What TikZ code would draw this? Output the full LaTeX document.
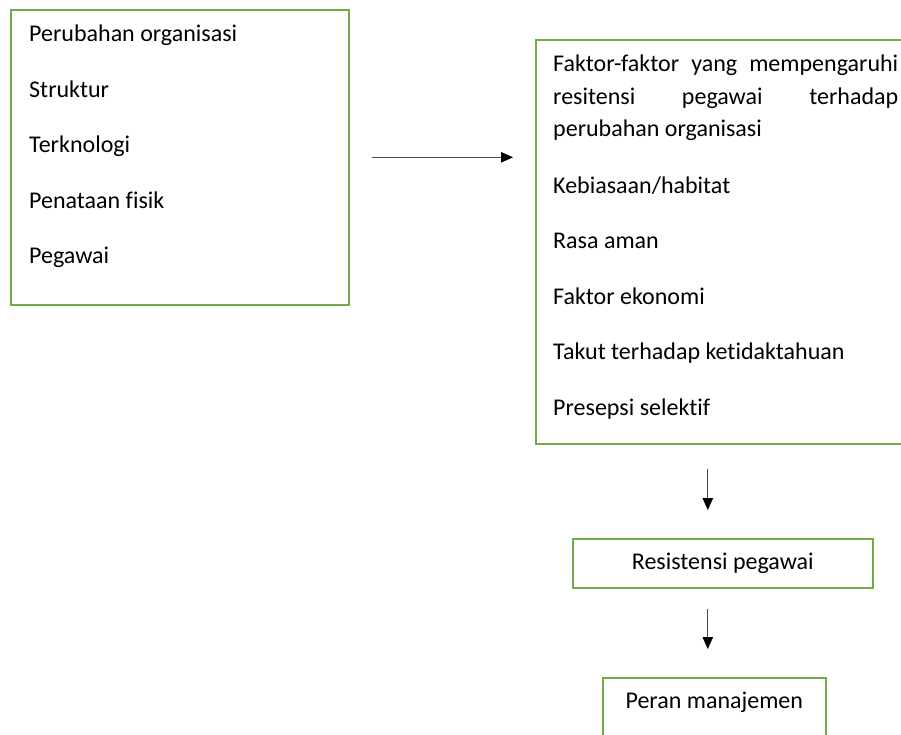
\documentclass[tikz,border=0pt]{standalone}
\usepackage{fontspec}
\setmainfont{Carlito}[Ligatures=NoCommon]
\usepackage{tikz}
\usetikzlibrary{arrows.meta, positioning}
\definecolor{boxgreen}{RGB}{112,173,71}
\setlength{\parindent}{0pt}
\tolerance=10000
\hyphenpenalty=10000

\begin{document}
\begin{tikzpicture}[x=1pt, y=-1pt,
    >={Triangle[length=12pt, width=10.5pt, color=black]}]
  \tikzset{
    box/.style={draw=boxgreen, line width=1.6pt, inner sep=0pt,
      anchor=north west},
    listtext/.style={inner sep=0pt, anchor=base west, align=flush left,
      text width=300pt, font=\fontsize{24}{55.5}\selectfont},
    arr/.style={->, draw=black!70, line width=0.8pt},
  }
  \useasboundingbox (0,0) rectangle (901,734);
  \clip (0,0) rectangle (901,734);

  % left block
  \node[box, minimum width=338pt, minimum height=295pt] (org) at (10,9) {};
  \node[listtext] (orglist) at (29,41.5)
    {Perubahan organisasi\\Struktur\\Terknologi\\Penataan fisik\\Pegawai};

  % right block
  \node[box, minimum width=400pt, minimum height=404pt] (fac) at (535,39) {};
  \node[listtext, text width=345pt, align=justify,
    font=\fontsize{24}{32.5}\selectfont] (faclist) at (553,71.5)
    {Faktor-faktor yang mempengaruhi\linebreak
     resitensi pegawai terhadap\linebreak
     perubahan organisasi\par\vspace{24pt}
     Kebiasaan/habitat\par\vspace{23pt}
     Rasa aman\par\vspace{23pt}
     Faktor ekonomi\par\vspace{23pt}
     Takut terhadap ketidaktahuan\par\vspace{23pt}
     Presepsi selektif};

  % lower chain
  \node[box, minimum width=300pt, minimum height=49pt,
    font=\fontsize{24}{28}\selectfont] (res) at (572,538)
    {Resistensi pegawai};
  \node[box, minimum width=223pt, minimum height=90pt] (peran) at (602,677) {};
  \node[inner sep=0pt, anchor=base, font=\fontsize{24}{28}\selectfont]
    (peranlbl) at ([yshift=-31pt]peran.north) {Peran manajemen};

  \draw[arr, shorten <=22pt, shorten >=22pt]
    (org.east) -- (fac.west |- org.east);
  \draw[arr, shorten <=24pt, shorten >=28pt]
    ([xshift=-15pt]res.north |- fac.south) -- ([xshift=-15pt]res.north);
  \draw[arr, shorten <=20pt, shorten >=28pt]
    ([xshift=-15pt]res.south) -- ([xshift=-15pt]res.south |- peran.north);
\end{tikzpicture}
\end{document}
